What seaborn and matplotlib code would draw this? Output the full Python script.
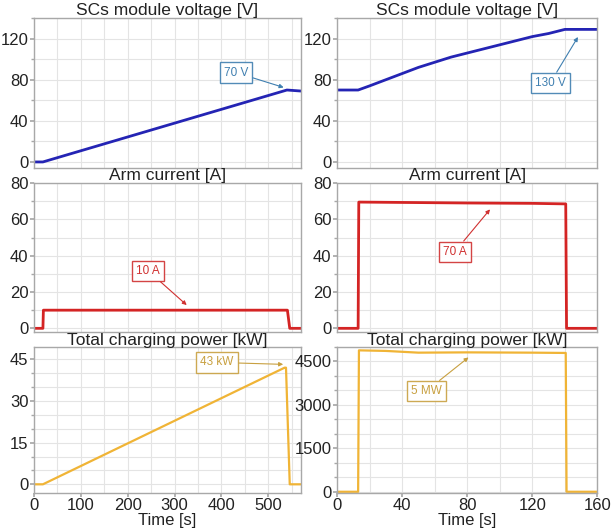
import matplotlib
matplotlib.use("Agg")
import matplotlib.pyplot as plt
import pandas as pd
import seaborn as sns
from matplotlib.ticker import MultipleLocator

sns.set_theme(style="whitegrid")
plt.rcParams["font.family"] = ["Liberation Sans", "DejaVu Sans"]

# ---- data ----
# left column: low-voltage test (0-570 s)
t_volt_l = [0, 19, 540, 570]
v_volt_l = [0, 0, 70, 69]
t_curr_l = [0, 19, 20, 541, 546, 570]
v_curr_l = [0, 0, 10, 10, 0, 0]
t_pow_l = [0, 19, 535, 538, 546, 570]
v_pow_l = [0, 0, 42, 42, 0, 0]

# right column: high-voltage test (0-160 s)
t_volt_r = [0, 13, 20, 30, 40, 50, 60, 70, 80, 90, 100, 110, 120, 130, 140, 160]
v_volt_r = [70, 70, 74, 80, 86, 92, 97, 102, 106, 110, 114, 118, 122, 125, 129, 129]
t_curr_r = [0, 13, 13.4, 40, 80, 120, 140.5, 141, 160]
v_curr_r = [0, 0, 69.5, 69.3, 69.0, 68.8, 68.5, 0, 0]
t_pow_r = [0, 13, 13.5, 30, 50, 80, 120, 140.5, 141, 160]
v_pow_r = [0, 0, 4880, 4860, 4800, 4810, 4800, 4790, 0, 0]

titles = ["SCs module voltage [V]", "Arm current [A]", "Total charging power [kW]"]
colors = ["#2424b4", "#d42424", "#f0b436"]
label_colors = ["#3f7fb0", "#d03030", "#c8a040"]

# annotations: (text, box center, arrow tip)
ann_left = [("70 V", (431, 87), (533, 72.5)),
            ("10 A", (244, 31.6), (326, 12.8)),
            ("43 kW", (391, 43.9), (532, 43.2))]
ann_right = [("130 V", (131, 77), (148, 121.6)),
             ("70 A", (72.4, 42.2), (94, 65.5)),
             ("5 MW", (54.8, 3474), (80.8, 4636))]

left_data = [(t_volt_l, v_volt_l), (t_curr_l, v_curr_l), (t_pow_l, v_pow_l)]
right_data = [(t_volt_r, v_volt_r), (t_curr_r, v_curr_r), (t_pow_r, v_pow_r)]

ylims = [(-6, 140), (-2, 80), None]
ymajor = [40, 20, None]
yminor = [20, 10, None]

fig = plt.figure(figsize=(6.13, 5.32), dpi=100)

row_pos = [(0.684, 0.282), (0.376, 0.280), (0.074, 0.274)]
col_pos = [(0.0555, 0.4355), (0.5497, 0.425)]


def style_axis(ax, xlim, xmaj, xmin, ylim, ymaj, ymin, show_x):
    ax.set_xlim(*xlim)
    ax.set_ylim(*ylim)
    ax.xaxis.set_major_locator(MultipleLocator(xmaj))
    ax.xaxis.set_minor_locator(MultipleLocator(xmin))
    ax.yaxis.set_major_locator(MultipleLocator(ymaj))
    ax.yaxis.set_minor_locator(MultipleLocator(ymin))
    ax.grid(True, which="both", color="#e4e4e4", linewidth=0.8)
    ax.set_facecolor("white")
    for sp in ax.spines.values():
        sp.set_color("#a8a8a8")
        sp.set_linewidth(1.0)
    ax.tick_params(axis="both", which="major", labelsize=12, colors="#222222",
                   length=3, pad=1, color="#a8a8a8", left=True, bottom=show_x)
    ax.tick_params(axis="y", which="minor", length=2, left=True, color="#a8a8a8")
    ax.set_xlabel("")
    ax.set_ylabel("")
    if not show_x:
        ax.tick_params(axis="x", labelbottom=False)
    else:
        ax.set_xlabel("Time [s]", fontsize=12, labelpad=0, color="#222222")


for col, (data, anns) in enumerate([(left_data, ann_left), (right_data, ann_right)]):
    x0, w = col_pos[col]
    for row in range(3):
        y0, h = row_pos[row]
        ax = fig.add_axes([x0, y0, w, h])
        t, v = data[row]
        df = pd.DataFrame({"t": t, "v": v})
        sns.lineplot(data=df, x="t", y="v", ax=ax, color=colors[row],
                     linewidth=2.0 if row < 2 else 1.6, estimator=None, sort=False)

        if col == 0:
            xlim, xmaj, xmin = (0, 570), 100, 50
        else:
            xlim, xmaj, xmin = (0, 160), 40, 20
        if row < 2:
            ylim, ymaj, ymin = ylims[row], ymajor[row], yminor[row]
        elif col == 0:
            ylim, ymaj, ymin = (-3, 49.5), 15, 5
        else:
            ylim, ymaj, ymin = (-30, 5000), 1500, 500
        style_axis(ax, xlim, xmaj, xmin, ylim, ymaj, ymin, show_x=(row == 2))
        ax.set_title(titles[row], fontsize=12.5, pad=1, color="#222222")

        text, box, tip = anns[row]
        ax.annotate(text, xy=tip, xytext=box, fontsize=8.5, color=label_colors[row],
                    ha="center", va="center",
                    bbox=dict(boxstyle="square,pad=0.35", fc="white",
                              ec=label_colors[row], lw=1.0, alpha=0.9),
                    arrowprops=dict(arrowstyle="-|>", color=label_colors[row],
                                    lw=0.8, mutation_scale=6, shrinkA=0, shrinkB=0))

fig.savefig("out.png", dpi=100)
